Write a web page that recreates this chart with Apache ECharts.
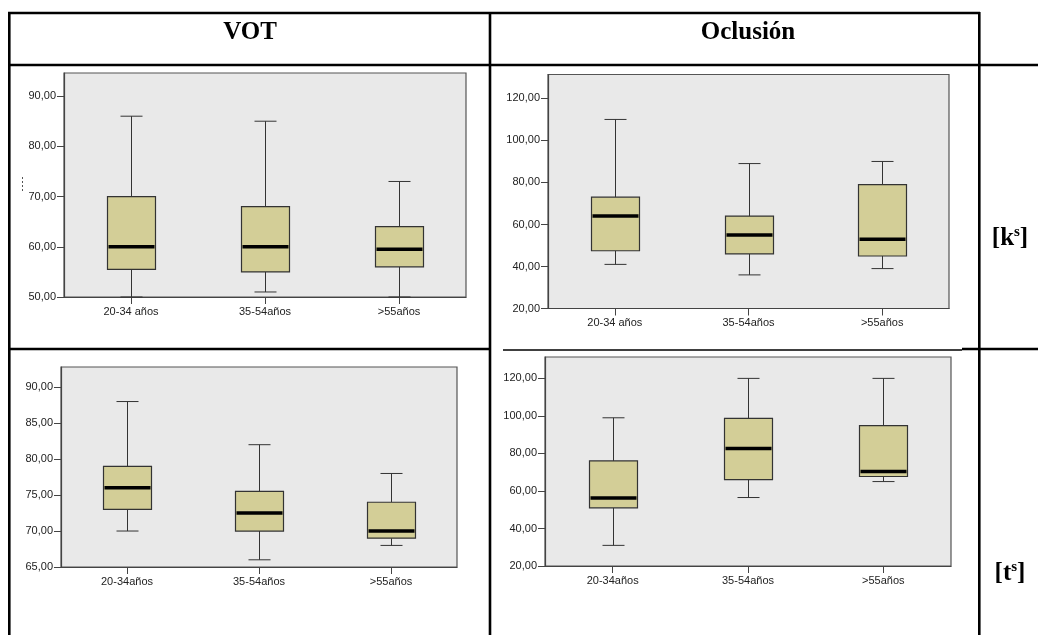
<!DOCTYPE html>
<html>
<head>
<meta charset="utf-8">
<script src="https://cdn.jsdelivr.net/npm/echarts@6/dist/echarts.min.js"></script>
<style>
html,body{margin:0;padding:0;background:#fff;}
#c{width:1038px;height:635px;}
</style>
</head>
<body>
<div id="c"></div>
<script>
// ---- data ----
const catsTop = ['20-34 años', '35-54años', '>55años'];
const catsBottom = ['20-34años', '35-54años', '>55años'];
// each box: [min, Q1, median, Q3, max]
const votK = [[50, 55.5, 60, 70, 86], [51, 55, 60, 68, 85], [50, 56, 59.5, 64, 73]];
const oclK = [[41, 47.5, 64, 73, 110], [36, 46, 55, 64, 89], [39, 45, 53, 79, 90]];
const votT = [[70, 73, 76, 79, 88], [66, 70, 72.5, 75.5, 82], [68, 69, 70, 74, 78]];
const oclT = [[31, 51, 56.3, 76, 99], [56.5, 66, 82.6, 98.7, 120], [65, 67.7, 70.4, 94.8, 120]];
const votKTicks = [50, 60, 70, 80, 90];
const votTTicks = [65, 70, 75, 80, 85, 90];
const oclTicks = [20, 40, 60, 80, 100, 120];
const headers = ['VOT', 'Oclusión'];
const rowLabels = ['k', 't'];

const chart = echarts.init(document.getElementById('c'), null, {renderer: 'canvas'});

const FONT = '"Liberation Sans", Arial, sans-serif';
const SERIF = '"Liberation Serif", "Times New Roman", serif';

function fmt(v) { return v.toFixed(2).replace('.', ','); }

function renderBox(params, api) {
  const xi = api.value(0);
  const p = [1, 2, 3, 4, 5].map(i => api.coord([xi, api.value(i)]));
  const x = Math.round(p[0][0]) + 0.5;
  const yMin = p[0][1], yQ1 = p[1][1], yMed = p[2][1], yQ3 = p[3][1], yMax = p[4][1];
  const bw = 24, cw = 11;
  const ls = {stroke: '#333', lineWidth: 1};
  return {
    type: 'group',
    children: [
      {type: 'line', shape: {x1: x, y1: yMax, x2: x, y2: yQ3}, style: ls},
      {type: 'line', shape: {x1: x, y1: yQ1, x2: x, y2: yMin}, style: ls},
      {type: 'line', shape: {x1: x - cw, y1: yMax, x2: x + cw, y2: yMax}, style: ls},
      {type: 'line', shape: {x1: x - cw, y1: yMin, x2: x + cw, y2: yMin}, style: ls},
      {type: 'rect', shape: {x: x - bw, y: yQ3, width: 2 * bw, height: yQ1 - yQ3},
        style: {fill: '#D3CE97', stroke: '#333', lineWidth: 1.2}},
      {type: 'line', shape: {x1: x - bw + 1, y1: yMed, x2: x + bw - 1, y2: yMed},
        style: {stroke: '#000', lineWidth: 3.5}}
    ]
  };
}

const grids = [
  {left: 64, top: 73, width: 402, height: 224},
  {left: 548, top: 74.5, width: 401, height: 234},
  {left: 61, top: 367, width: 396, height: 200},
  {left: 545, top: 357, width: 406, height: 209}
].map(g => Object.assign(g, {show: true, backgroundColor: '#E9E9E9', borderColor: '#555', borderWidth: 1.2}));

const panels = [
  {cats: catsTop, data: votK, ticks: votKTicks, min: 50, max: 94.6, interval: 10},
  {cats: catsTop, data: oclK, ticks: oclTicks, min: 20, max: 131.4, interval: 20},
  {cats: catsBottom, data: votT, ticks: votTTicks, min: 65, max: 92.8, interval: 5},
  {cats: catsBottom, data: oclT, ticks: oclTicks, min: 20, max: 131.4, interval: 20}
];

const xAxes = panels.map((p, i) => ({
  type: 'category', gridIndex: i, data: p.cats, boundaryGap: true,
  axisLine: {show: true, lineStyle: {color: '#444', width: 1.2}},
  axisTick: {show: true, alignWithLabel: true, length: 7, lineStyle: {color: '#444'}},
  axisLabel: {color: '#222', fontSize: 11, fontFamily: FONT, margin: 9},
  splitLine: {show: false}
}));
const yAxes = panels.map((p, i) => ({
  type: 'value', gridIndex: i, min: p.min, max: p.max, interval: p.interval,
  axisLine: {show: true, lineStyle: {color: '#444', width: 1.2}},
  axisTick: {show: true, length: 7, lineStyle: {color: '#444'}, customValues: p.ticks},
  axisLabel: {color: '#222', fontSize: 11, fontFamily: FONT, margin: 8, customValues: p.ticks,
    formatter: v => fmt(v)},
  splitLine: {show: false}
}));
const series = panels.map((p, i) => ({
  type: 'custom', xAxisIndex: i, yAxisIndex: i,
  renderItem: renderBox,
  encode: {x: 0, y: [1, 2, 3, 4, 5]},
  data: p.data.map((d, k) => [k].concat(d)),
  silent: true
}));

function hline(x1, x2, y, w) { return {type: 'line', shape: {x1, y1: y, x2, y2: y}, style: {stroke: '#000', lineWidth: w || 2.6}}; }
function vline(x, y1, y2, w) { return {type: 'line', shape: {x1: x, y1, x2: x, y2}, style: {stroke: '#000', lineWidth: w || 2.6}}; }

// superscript row labels built from separate text pieces
const mctx = document.createElement('canvas').getContext('2d');
function tw(text, font) { mctx.font = font; return mctx.measureText(text).width; }
const BIG = 'bold 25px ' + SERIF, SMALL = 'bold 15px ' + SERIF;
function rowLabel(letter, cx, topY) {
  const w1 = tw('[' + letter, BIG), w2 = tw('s', SMALL), w3 = tw(']', BIG);
  const x0 = cx - (w1 + w2 + w3) / 2;
  const t = (txt, x, y, font) => ({type: 'text', x, y, style: {text: txt, font, fill: '#000', textAlign: 'left', textVerticalAlign: 'top'}});
  return [
    t('[' + letter, x0, topY, BIG),
    t('s', x0 + w1, topY - 1, SMALL),
    t(']', x0 + w1 + w2, topY, BIG)
  ];
}

const graphic = [
  hline(8, 980, 13),
  hline(8, 1038, 65),
  hline(8, 491, 349),
  hline(503, 962, 350, 1.3),
  hline(962, 1038, 349),
  vline(9.3, 12, 635),
  vline(490, 12, 635),
  vline(979.3, 12, 635),
  {type: 'line', shape: {x1: 22.5, y1: 177, x2: 22.5, y2: 193}, style: {stroke: '#555', lineWidth: 1, lineDash: [2, 2]}},
  {type: 'text', x: 250, y: 33, style: {text: headers[0], font: 'bold 25px ' + SERIF, fill: '#000', textAlign: 'center', textVerticalAlign: 'middle'}},
  {type: 'text', x: 748, y: 33, style: {text: headers[1], font: 'bold 25px ' + SERIF, fill: '#000', textAlign: 'center', textVerticalAlign: 'middle'}}
].concat(rowLabel(rowLabels[0], 1010, 226), rowLabel(rowLabels[1], 1010, 561));

chart.setOption({
  animation: false,
  backgroundColor: '#fff',
  grid: grids,
  xAxis: xAxes,
  yAxis: yAxes,
  series: series,
  graphic: graphic
});
</script>
</body>
</html>
